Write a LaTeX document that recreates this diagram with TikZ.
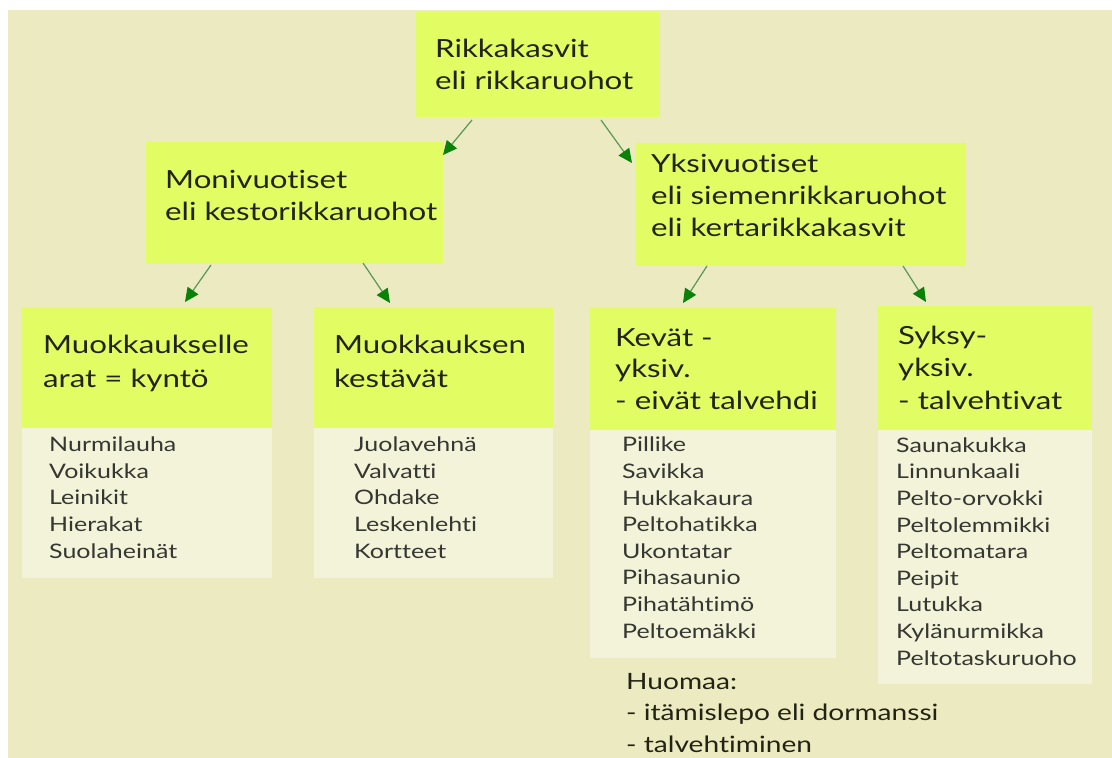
\documentclass[tikz,border=0pt]{standalone}
\usepackage{fontspec}
\setmainfont[FakeStretch=1.25,Ligatures=NoCommon]{Lato}
\usetikzlibrary{arrows.meta}
\definecolor{bg}{RGB}{235,234,192}
\definecolor{lime}{RGB}{226,253,100}
\definecolor{pale}{RGB}{243,243,218}
\definecolor{txt}{RGB}{35,35,20}
\definecolor{ltxt}{RGB}{55,55,50}
\definecolor{arrline}{RGB}{90,150,90}
\definecolor{arrhead}{RGB}{10,130,10}
\begin{document}
\begin{tikzpicture}[x=1pt,y=-1pt,
  greenbox/.style={fill=lime, draw=none, anchor=north west, inner sep=0pt, outer sep=0pt},
  palebox/.style={fill=pale, draw=none, anchor=north west, inner sep=0pt, outer sep=0pt},
  head/.style={anchor=base west, align=left, inner sep=0pt, text=txt, font=\fontsize{25}{32}\selectfont},
  items/.style={anchor=base west, align=left, inner sep=0pt, text=ltxt, font=\fontsize{20}{26.6}\selectfont},
  note/.style={anchor=base west, align=left, inner sep=0pt, text=txt, font=\fontsize{22.5}{31.5}\selectfont},
  arr/.style={draw=arrline, line width=1.2pt, -{Triangle[length=14pt,width=13pt,color=arrhead]}}
]
\useasboundingbox (0,0) rectangle (1112,758);
\fill[bg] (8,10) rectangle (1112,758);

% boxes
\node[greenbox, minimum width=244pt, minimum height=105pt] (top) at (416,12) {};
\node[greenbox, minimum width=297pt, minimum height=122pt] (moni) at (146,142) {};
\node[greenbox, minimum width=330pt, minimum height=123pt] (yksi) at (636,143) {};
\node[greenbox, minimum width=250pt, minimum height=121pt] (m1) at (22,307) {};
\node[palebox, minimum width=250pt, minimum height=150pt] (m1l) at (22,428) {};
\node[greenbox, minimum width=239pt, minimum height=121pt] (m2) at (314,307) {};
\node[palebox, minimum width=239pt, minimum height=150pt] (m2l) at (314,428) {};
\node[greenbox, minimum width=246pt, minimum height=123pt] (kev) at (590,307) {};
\node[palebox, minimum width=246pt, minimum height=228pt] (kevl) at (590,430) {};
\node[greenbox, minimum width=214pt, minimum height=124pt] (syk) at (878,306) {};
\node[palebox, minimum width=214pt, minimum height=254pt] (sykl) at (878,430) {};

% arrows
\draw[arr] ([shift={(56,3)}]top.south west) -- ([shift={(0,13)}]moni.north east);
\draw[arr] ([shift={(185,3)}]top.south west) -- ([shift={(-4,20)}]yksi.north west);
\draw[arr] ([shift={(65,1)}]moni.south west) -- ([shift={(163,-5)}]m1.north west);
\draw[arr] ([shift={(217,-1)}]moni.south west) -- ([shift={(76,-4)}]m2.north west);
\draw[arr] ([shift={(71,0)}]yksi.south west) -- ([shift={(93,-4)}]kev.north west);
\draw[arr] ([shift={(267,0)}]yksi.south west) -- ([shift={(48,-4)}]syk.north west);

% texts (anchored at the baseline of their last line)
\node[head] (ttop) at (435,89) {Rikkakasvit\\eli rikkaruohot};
\node[head] (tmoni) at (165,220) {Monivuotiset\\eli kestorikkaruohot};
\node[head] (tyksi) at (651,236) {Yksivuotiset\\eli siemenrikkaruohot\\eli kertarikkakasvit};
\node[head, font=\fontsize{25}{33.5}\selectfont] (tm1) at (43,387) {Muokkaukselle\\arat = kyntö};
\node[head, font=\fontsize{25}{33.5}\selectfont] (tm2) at (334,387) {Muokkauksen\\kestävät};
\node[head, font=\fontsize{25}{31.5}\selectfont] (tkev) at (615,409) {Kevät -\\yksiv.\\- eivät talvehdi};
\node[head, font=\fontsize{25}{32.5}\selectfont] (tsyk) at (898,409) {Syksy-\\yksiv.\\- talvehtivat};

\node[items] (lm1) at (49,558) {Nurmilauha\\Voikukka\\Leinikit\\Hierakat\\Suolaheinät};
\node[items] (lm2) at (354,558) {Juolavehnä\\Valvatti\\Ohdake\\Leskenlehti\\Kortteet};
\node[items] (lkev) at (622,638) {Pillike\\Savikka\\Hukkakaura\\Peltohatikka\\Ukontatar\\Pihasaunio\\Pihatähtimö\\Peltoemäkki};
\node[items] (lsyk) at (896,665) {Saunakukka\\Linnunkaali\\Pelto-orvokki\\Peltolemmikki\\Peltomatara\\Peipit\\Lutukka\\Kylänurmikka\\Peltotaskuruoho};

\node[note] (huom) at (626,752) {Huomaa:\\- itämislepo eli dormanssi\\- talvehtiminen};
\end{tikzpicture}
\end{document}
